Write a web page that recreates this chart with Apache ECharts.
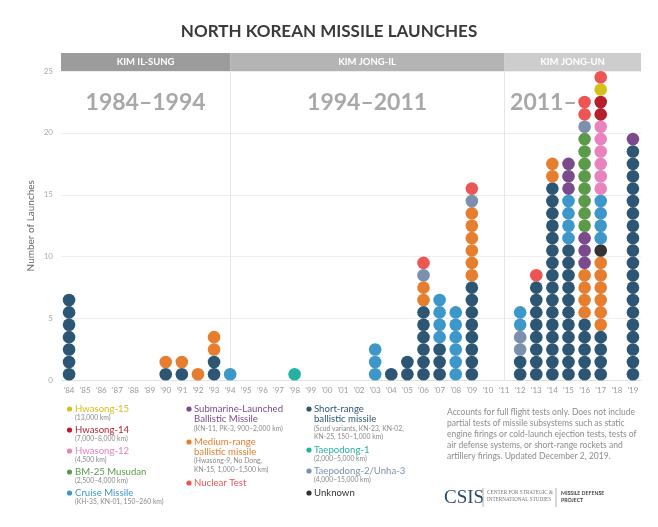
<!DOCTYPE html>
<html><head><meta charset="utf-8">
<script src="https://cdn.jsdelivr.net/npm/echarts@6/dist/echarts.min.js"></script>
<style>html,body{margin:0;padding:0;background:#fff}#c{width:658px;height:527px}</style>
</head><body><div id="c"></div>
<script>
// ---- data ----
const years = ["'84","'85","'86","'87","'88","'89","'90","'91","'92","'93","'94","'95","'96","'97","'98","'99","'00","'01","'02","'03","'04","'05","'06","'07","'08","'09","'10","'11","'12","'13","'14","'15","'16","'17","'18","'19"];
const srbm    = [7,0,0,0,0,0,1,1,0,2, 0,0,0,0,0,0,0,0,0,0, 1,2,6,3,0,8,0,0,2,8, 16,11,5,4,0,19];
const mrbm    = [0,0,0,0,0,0,1,1,1,2, 0,0,0,0,0,0,0,0,0,0, 0,0,2,0,0,6,0,0,0,0, 2,0,4,6,0,0];
const cruise  = [0,0,0,0,0,0,0,0,0,0, 1,0,0,0,0,0,0,0,0,3, 0,0,0,4,6,0,0,0,2,0, 0,4,0,4,0,0];
const td1     = [0,0,0,0,0,0,0,0,0,0, 0,0,0,0,1,0,0,0,0,0, 0,0,0,0,0,0,0,0,0,0, 0,0,0,0,0,0];
const td2     = [0,0,0,0,0,0,0,0,0,0, 0,0,0,0,0,0,0,0,0,0, 0,0,1,0,0,1,0,0,2,0, 0,0,1,0,0,0];
const nuclear = [0,0,0,0,0,0,0,0,0,0, 0,0,0,0,0,0,0,0,0,0, 0,0,1,0,0,1,0,0,0,1, 0,0,2,1,0,0];
const slbm    = [0,0,0,0,0,0,0,0,0,0, 0,0,0,0,0,0,0,0,0,0, 0,0,0,0,0,0,0,0,0,0, 0,3,3,0,0,1];
const musudan = [0,0,0,0,0,0,0,0,0,0, 0,0,0,0,0,0,0,0,0,0, 0,0,0,0,0,0,0,0,0,0, 0,0,8,0,0,0];
const hs12    = [0,0,0,0,0,0,0,0,0,0, 0,0,0,0,0,0,0,0,0,0, 0,0,0,0,0,0,0,0,0,0, 0,0,0,6,0,0];
const hs14    = [0,0,0,0,0,0,0,0,0,0, 0,0,0,0,0,0,0,0,0,0, 0,0,0,0,0,0,0,0,0,0, 0,0,0,2,0,0];
const hs15    = [0,0,0,0,0,0,0,0,0,0, 0,0,0,0,0,0,0,0,0,0, 0,0,0,0,0,0,0,0,0,0, 0,0,0,1,0,0];
const unknown = [0,0,0,0,0,0,0,0,0,0, 0,0,0,0,0,0,0,0,0,0, 0,0,0,0,0,0,0,0,0,0, 0,0,0,1,0,0];
const yTicks = [0,5,10,15,20,25];
const eras = [["KIM IL-SUNG","1984–1994"],["KIM JONG-IL","1994–2011"],["KIM JONG-UN","2011–"]];
const eraBounds = ["'94","'11"];

// stacking order (bottom to top)
const typeOrder = ['srbm','mrbm','unknown','cruise','slbm','musudan','td1','td2','hs12','hs14','hs15','nuclear'];
const orderOverrides = {"'12": ['srbm','td2','cruise']};
const counts = {srbm, mrbm, cruise, td1, td2, nuclear, slbm, musudan, hs12, hs14, hs15, unknown};

const colors = {
  srbm:'#2c5673', mrbm:'#e67e2f', cruise:'#3d97c8', td1:'#26b2a3', td2:'#7b8fae',
  nuclear:'#ed5555', slbm:'#7b4a8b', musudan:'#5b9a49', hs12:'#e883bd', hs14:'#b51f2d',
  hs15:'#d6c01c', unknown:'#333333'
};

const FONT = 'Lato, "Open Sans", sans-serif';

const seriesMap = {};
const series = typeOrder.map(t => {
  const s = {type:'scatter', name:t, symbolSize:12.6, z:3, emphasis:{disabled:true},
    itemStyle:{color:colors[t], opacity:1}, data:[]};
  seriesMap[t] = s; return s;
});
years.forEach((y,i) => {
  let level = 0;
  (orderOverrides[y] || typeOrder).forEach(t => {
    for (let k = 0; k < counts[t][i]; k++) { seriesMap[t].data.push([i, level + 0.5]); level++; }
  });
});
series[0].markLine = {silent:true, symbol:'none', label:{show:false}, z:1,
  lineStyle:{color:'#e6e6e6', type:'solid', width:1},
  data: eraBounds.map(b => ({xAxis:b}))};

const chart = echarts.init(document.getElementById('c'), null, {renderer:'canvas'});
chart.setOption({
  animation:false,
  backgroundColor:'#fff',
  textStyle:{fontFamily:FONT},
  grid:{left:61, right:17, top:71, bottom:146.5},
  xAxis:{type:'category', data:years, boundaryGap:true,
    axisTick:{show:false}, axisLine:{lineStyle:{color:'#e2e2e2'}},
    axisLabel:{fontSize:8, color:'#999', margin:6, interval:0, fontFamily:FONT}},
  yAxis:{type:'value', min:yTicks[0], max:yTicks[yTicks.length-1], interval:5,
    name:'Number of Launches', nameLocation:'middle', nameGap:25, nameMoveOverlap:false,
    nameTextStyle:{fontSize:10, color:'#666', fontFamily:FONT},
    axisLine:{show:false}, axisTick:{show:false},
    axisLabel:{fontSize:8, color:'#aaa', margin:8, fontFamily:FONT},
    splitLine:{lineStyle:{color:'#eeeeee'}}},
  series
});

// ---- header bands, labels, legend ----
const px = v => chart.convertToPixel({xAxisIndex:0}, v);
const half = (px(years[1]) - px(years[0])) / 2;
const xs = [px(years[0]) - half, px(eraBounds[0]), px(eraBounds[1]), px(years[years.length-1]) + half];
const bandCols = ['#9c9c9c','#b4b4b4','#cdcdcd'];
const g = [];
g.push({type:'text', left:'center', top:23, style:{text:'NORTH KOREAN MISSILE LAUNCHES', font:'bold 17px '+FONT, fill:'#3a3a3a'}});
eras.forEach((e,i) => {
  g.push({type:'rect', shape:{x:xs[i], y:53, width:xs[i+1]-xs[i], height:18}, style:{fill:bandCols[i]}, z:10});
  g.push({type:'text', x:(xs[i]+xs[i+1])/2, y:62, z:11, style:{text:e[0], font:'bold 9.5px '+FONT, fill:'#fff', textAlign:'center', textVerticalAlign:'middle'}});
  if (i < 2) g.push({type:'text', x:(xs[i]+xs[i+1])/2, y:103, z:11, style:{text:e[1], font:'bold 23px '+FONT, fill:'#a8a8a8', textAlign:'center', textVerticalAlign:'middle'}});
  else g.push({type:'text', x:xs[i]+6, y:103, z:11, style:{text:e[1], font:'bold 23px '+FONT, fill:'#a8a8a8', textAlign:'left', textVerticalAlign:'middle'}});
});
function T(x,y,text,size,color,weight,family){
  g.push({type:'text', x, y, style:{text, font:(weight||'normal')+' '+size+'px '+(family||FONT), fill:color, textVerticalAlign:'middle'}});
}
function dot(x,y,c){ g.push({type:'circle', shape:{cx:x, cy:y, r:2.6}, style:{fill:c}}); }
const SUB = '#8a8a8a', LS = 9.6, SS = 6.8;
// column 1
[['hs15','Hwasong-15','(13,000 km)',409],['hs14','Hwasong-14','(7,000–8,000 km)',430],
 ['hs12','Hwasong-12','(4,500 km)',451],['musudan','BM-25 Musudan','(2,500–4,000 km)',472],
 ['cruise','Cruise Missile','(KH-35, KN-01, 150–260 km)',493]].forEach(r => {
  dot(69.5, r[3], colors[r[0]]); T(75, r[3], r[1], LS, colors[r[0]]); T(75, r[3]+9, r[2], SS, SUB);
});
// column 2
dot(189, 409, colors.slbm); T(194, 409, 'Submarine-Launched', LS, colors.slbm); T(194, 419, 'Ballistic Missile', LS, colors.slbm);
T(194, 428.5, '(KN-11, PK-3, 900–2,000 km)', SS, SUB);
dot(189, 442, colors.mrbm); T(194, 442, 'Medium-range', LS, colors.mrbm); T(194, 452, 'ballistic missile', LS, colors.mrbm);
T(194, 461, '(Hwasong-9, No Dong,', SS, SUB); T(194, 469.5, 'KN-15, 1,000–1,500 km)', SS, SUB);
dot(189, 483, colors.nuclear); T(194, 483, 'Nuclear Test', LS, colors.nuclear);
// column 3
dot(309, 409, colors.srbm); T(314, 409, 'Short-range', LS, colors.srbm); T(314, 419, 'ballistic missile', LS, colors.srbm);
T(314, 428.5, '(Scud variants, KN-23, KN-02,', SS, SUB); T(314, 437, 'KN-25, 150–1,000 km)', SS, SUB);
dot(309, 450, colors.td1); T(314, 450, 'Taepodong-1', LS, colors.td1); T(314, 459, '(2,000–5,000 km)', SS, SUB);
dot(309, 471, colors.td2); T(314, 471, 'Taepodong-2/Unha-3', LS, colors.td2); T(314, 480, '(4,000–15,000 km)', SS, SUB);
dot(309, 493, colors.unknown); T(314, 493, 'Unknown', LS, colors.unknown);
// note
['Accounts for full flight tests only. Does not include',
 'partial tests of missile subsystems such as static',
 'engine firings or cold-launch ejection tests, tests of',
 'air defense systems, or short-range rockets and',
 'artillery firings. Updated December 2, 2019.'].forEach((l,i) => T(447, 412 + i*11, l, 8.5, '#8c8c8c'));
// logo
T(444, 498, 'CSIS', 19, '#2b4a6c', 'normal', '"Liberation Serif", "DejaVu Serif", serif');
g.push({type:'line', shape:{x1:483, y1:488, x2:483, y2:507}, style:{stroke:'#999', lineWidth:0.8}});
T(487, 493, 'CENTER FOR STRATEGIC &', 5.2, '#777', 'normal', '"Liberation Serif", serif');
T(487, 500, 'INTERNATIONAL STUDIES', 5.2, '#777', 'normal', '"Liberation Serif", serif');
g.push({type:'line', shape:{x1:556, y1:488, x2:556, y2:507}, style:{stroke:'#999', lineWidth:0.8}});
T(561, 493, 'MISSILE DEFENSE', 5.2, '#444', 'bold');
T(561, 500, 'PROJECT', 5.2, '#444', 'bold');
chart.setOption({graphic:g});
</script></body></html>
